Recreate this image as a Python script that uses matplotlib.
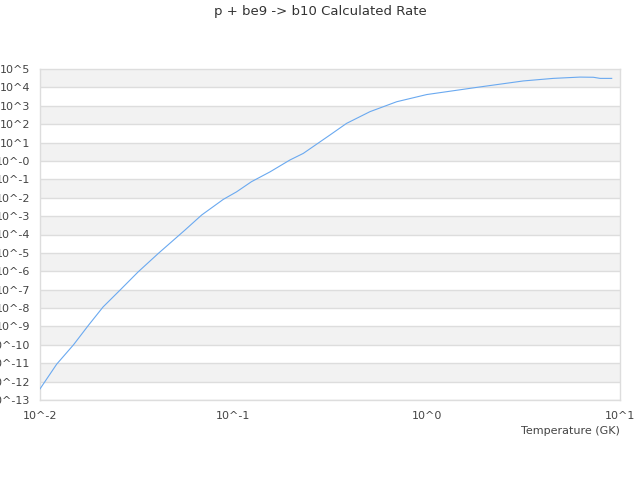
import matplotlib
matplotlib.use("Agg")
import matplotlib.pyplot as plt
import numpy as np

# Rate curve (temperature in GK, rate)
temperature = [0.0100, 0.0122, 0.0149, 0.0178, 0.0212, 0.0259, 0.0322, 0.0409,
               0.0562, 0.0686, 0.0887, 0.104, 0.124, 0.155, 0.196, 0.230,
               0.316, 0.385, 0.509, 0.700, 1.00, 1.815, 3.16, 4.52, 6.21,
               7.28, 7.89, 9.06]
rate = [4.0e-13, 8.9e-12, 1.0e-10, 1.15e-9, 1.15e-8, 9.3e-8, 9.3e-7, 9.3e-6,
        1.74e-4, 1.15e-3, 8.1e-3, 0.021, 0.074, 0.257, 1.12, 2.57,
        25.7, 110, 479, 1660, 4070, 1.0e4, 2.24e4, 3.09e4, 3.63e4,
        3.55e4, 3.09e4, 3.09e4]

y_exponents = list(range(-13, 6))
y_labels = ["10^%d" % e if e != 0 else "10^-0" for e in y_exponents]
x_exponents = [-2, -1, 0, 1]
x_labels = ["10^%d" % e for e in x_exponents]

TEXT = "#444444"
GRID = "#dddddd"
BAND = "#f2f2f2"

fig = plt.figure(figsize=(6.4, 4.8), dpi=100)
ax = fig.add_axes([40 / 640, 1 - 400 / 480, 580 / 640, 331 / 480])

# alternating horizontal bands, one per decade
for e in y_exponents[:-1]:
    if e % 2 == 0:
        ax.axhspan(10.0 ** e, 10.0 ** (e + 1), color=BAND, lw=0, zorder=0)
    ax.axhline(10.0 ** e, color=GRID, lw=1, zorder=1)

ax.plot(temperature, rate, color="#6aa9f0", lw=0.8, zorder=3)

ax.set_xscale("log")
ax.set_yscale("log")
ax.set_xlim(1e-2, 1e1)
ax.set_ylim(1e-13, 1e5)
ax.set_xticks([10.0 ** e for e in x_exponents])
ax.set_xticklabels(x_labels)
ax.set_yticks([10.0 ** e for e in y_exponents])
ax.set_yticklabels(y_labels)
ax.minorticks_off()
ax.tick_params(length=0, labelsize=8, colors=TEXT)
ax.tick_params(axis="y", pad=7)
ax.tick_params(axis="x", pad=8)
for s in ax.spines.values():
    s.set_color(GRID)
    s.set_linewidth(1)

fig.text(620 / 640, 1 - 431 / 480, "Temperature (GK)", ha="right", va="center",
         fontsize=8, color=TEXT)
fig.text(0.5, 1 - 12 / 480, "p + be9 -> b10 Calculated Rate", ha="center",
         va="center", fontsize=9.5, color="#333333")

fig.savefig("out.png", dpi=100)
